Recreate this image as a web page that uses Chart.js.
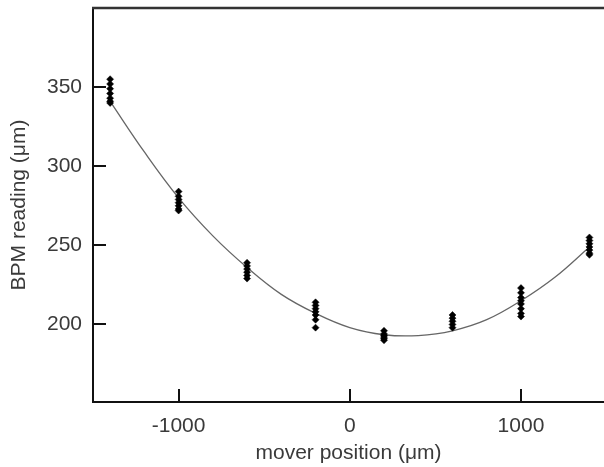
<!DOCTYPE html>
<html>
<head>
<meta charset="utf-8">
<script src="https://cdn.jsdelivr.net/npm/chart.js@4"></script>
<style>
  html, body { margin: 0; padding: 0; background: #fff; }
  canvas { display: block; }
</style>
</head>
<body>
<canvas id="bpmChart" width="604" height="467"></canvas>
<script>
// mover positions (um) where readings were taken
const positions = [-1400, -1000, -600, -200, 200, 600, 1000, 1400];

// BPM readings (um) at each mover position
const readings = [
    [355, 352, 349, 346, 343, 341, 340],
    [284, 281, 279, 277, 275, 273, 272],
    [239, 237, 235, 233, 231, 229],
    [214, 212, 210, 208, 206, 203, 198],
    [196, 194, 193, 192, 191, 190],
    [206, 204, 202, 200, 198],
    [223, 220, 217, 215, 213, 210, 207, 205],
    [255, 253, 251, 249, 247, 245, 244]
];

// fitted curve
const fitX = [-1400, -1200, -1000, -800, -600, -400, -200, 0, 200, 400, 600, 800, 1000, 1200, 1400];
const fitY = [341, 309, 280, 256, 236, 219, 207, 198, 193.5, 193, 196, 203, 215, 230, 249];

const xTicks = [-1000, 0, 1000];
const yTicks = [200, 250, 300, 350];

const textColor = '#3a3a3a';
const fontFamily = '"Liberation Sans", Arial, sans-serif';

function buildPoints() {
    const pts = [];
    positions.forEach((x, i) => {
        readings[i].forEach(y => pts.push({ x: x, y: y }));
    });
    return pts;
}

// inward tick marks + top frame line
const frameTicks = {
    id: 'frameTicks',
    afterDraw(chart) {
        const { ctx, chartArea, scales } = chart;
        const len = 13;
        ctx.save();
        ctx.strokeStyle = '#111';
        ctx.lineWidth = 2;
        ctx.beginPath();
        scales.x.ticks.forEach(t => {
            const px = Math.round(scales.x.getPixelForValue(t.value));
            ctx.moveTo(px, chartArea.bottom);
            ctx.lineTo(px, chartArea.bottom - len);
        });
        scales.y.ticks.forEach(t => {
            const py = Math.round(scales.y.getPixelForValue(t.value));
            ctx.moveTo(chartArea.left, py);
            ctx.lineTo(chartArea.left + len, py);
        });
        ctx.stroke();
        ctx.strokeStyle = '#333';
        ctx.lineWidth = 2.5;
        ctx.beginPath();
        ctx.moveTo(chartArea.left - 1, chartArea.top);
        ctx.lineTo(chartArea.right, chartArea.top);
        ctx.stroke();
        ctx.restore();
    }
};

const ctx = document.getElementById('bpmChart').getContext('2d');
new Chart(ctx, {
    type: 'scatter',
    data: {
        datasets: [
            {
                label: 'readings',
                data: buildPoints(),
                pointStyle: 'rectRot',
                pointRadius: 3.5,
                pointBackgroundColor: '#000',
                pointBorderColor: '#000',
                pointBorderWidth: 0.5,
                order: 1
            },
            {
                label: 'fit',
                data: fitX.map((x, i) => ({ x: x, y: fitY[i] })),
                showLine: true,
                tension: 0.4,
                borderColor: '#666',
                borderWidth: 1.3,
                pointRadius: 0,
                order: 2
            }
        ]
    },
    options: {
        responsive: false,
        animation: false,
        layout: { autoPadding: false, padding: { top: 8, right: 0, left: 0, bottom: 0 } },
        plugins: {
            legend: { display: false },
            tooltip: { enabled: false }
        },
        scales: {
            x: {
                type: 'linear',
                min: -1500,
                max: 1485,
                afterBuildTicks: scale => {
                    scale.ticks = xTicks.map(v => ({ value: v }));
                },
                afterFit: scale => {
                    scale.height = 65;
                    scale.paddingLeft = 0;
                    scale.paddingRight = 0;
                },
                grid: { display: false, drawTicks: false },
                border: { display: true, color: '#111', width: 2 },
                ticks: {
                    color: textColor,
                    padding: 12,
                    maxRotation: 0,
                    callback: v => String(v),
                    font: { family: fontFamily, size: 21 }
                },
                title: {
                    display: true,
                    text: 'mover position (\u03bcm)',
                    color: textColor,
                    padding: { top: 0, bottom: 1 },
                    font: { family: fontFamily, size: 21 }
                }
            },
            y: {
                min: 151,
                max: 400,
                afterBuildTicks: scale => {
                    scale.ticks = yTicks.map(v => ({ value: v }));
                },
                afterFit: scale => {
                    scale.width = 93;
                    scale.paddingTop = 0;
                    scale.paddingBottom = 0;
                },
                grid: { display: false, drawTicks: false },
                border: { display: true, color: '#111', width: 2 },
                ticks: {
                    color: textColor,
                    padding: 11,
                    callback: v => String(v),
                    font: { family: fontFamily, size: 21 }
                },
                title: {
                    display: true,
                    text: 'BPM reading (\u03bcm)',
                    color: textColor,
                    padding: { top: 7, bottom: 0 },
                    font: { family: fontFamily, size: 21 }
                }
            }
        }
    },
    plugins: [frameTicks]
});
</script>
</body>
</html>
